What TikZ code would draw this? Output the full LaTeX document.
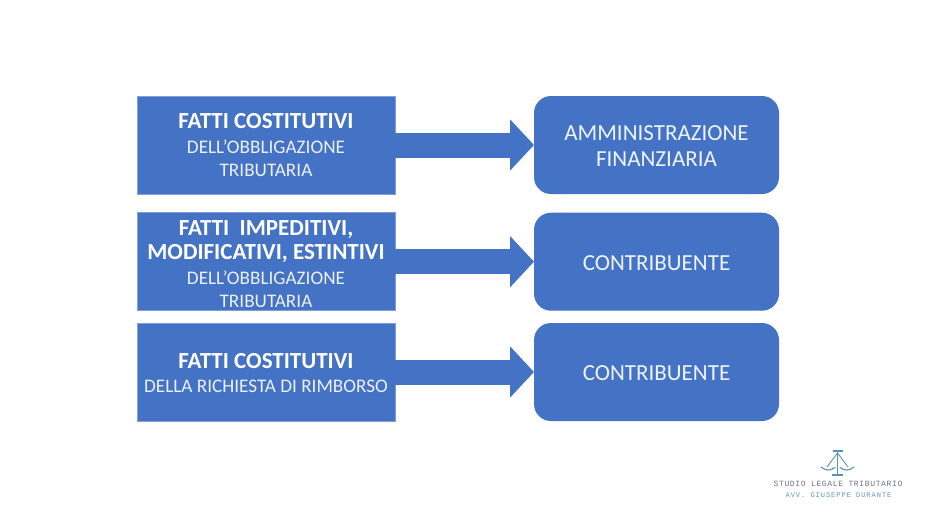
\documentclass[tikz,border=0pt]{standalone}
\usepackage{fontspec}
\setmainfont{Carlito}
\newfontfamily\logofont{Liberation Mono}
\usetikzlibrary{arrows.meta}
\definecolor{bluefill}{HTML}{4472C4}
\definecolor{blueedge}{HTML}{7F9FD6}
\definecolor{logoblue}{HTML}{5B93B5}
\definecolor{logogray}{HTML}{6F7478}
\newcommand{\headtxt}[1]{{\fontsize{23}{27}\selectfont\bfseries\rule{0pt}{17pt}#1}}
\newcommand{\subtxt}[1]{{\fontsize{19.2}{23}\selectfont\color{white!90!bluefill}\rule{0pt}{22pt}#1}}
\newcommand{\roundtxt}[1]{{\fontsize{23}{27}\selectfont\rule[-5pt]{0pt}{27pt}#1}}
\tikzset{
  fact/.style={rectangle,fill=bluefill,draw=blueedge,line width=0.6pt,outer sep=0pt,minimum width=258pt,minimum height=98pt,inner sep=0pt,text=white,align=center,anchor=north west},
  actor/.style={rectangle,rounded corners=17pt,fill=bluefill,outer sep=0pt,minimum width=245pt,minimum height=98pt,inner sep=0pt,text=white!92!bluefill,align=center,anchor=north west},
  flow/.style={draw=bluefill,line width=25pt,-{Triangle[length=24pt,width=50pt]}},
  logoline/.style={draw=logoblue,line width=1.1pt,line cap=round}
}
\begin{document}
\begin{tikzpicture}[x=1pt,y=-1pt]
\useasboundingbox (0,0) rectangle (935,528);
\node[fact] (f1) at (137,96) {\headtxt{FATTI COSTITUTIVI}\\[1.7pt]\subtxt{DELL’OBBLIGAZIONE}\\\subtxt{\rule[-2.5pt]{0pt}{0pt}TRIBUTARIA}};
\node[fact] (f2) at (137,212.7) {\headtxt{\rule{0pt}{19pt}FATTI\ \ IMPEDITIVI,}\\[3pt]\headtxt{MODIFICATIVI, ESTINTIVI}\\[-1.3pt]\subtxt{DELL’OBBLIGAZIONE}\\\subtxt{TRIBUTARIA}};
\node[fact] (f3) at (137,323) {\headtxt{FATTI COSTITUTIVI}\\[0.7pt]\subtxt{DELLA RICHIESTA DI RIMBORSO}};
\node[actor] (a1) at (534,96) {\roundtxt{AMMINISTRAZIONE}\\[-2pt]\roundtxt{FINANZIARIA}};
\node[actor] (a2) at (534,212.7) {\roundtxt{CONTRIBUENTE}};
\node[actor] (a3) at (534,323) {\roundtxt{CONTRIBUENTE}};
\draw[flow] (f1.east) -- (a1.west);
\draw[flow] (f2.east) -- (a2.west);
\draw[flow] (f3.east) -- (a3.west);
% logo
\draw[logoblue,line width=1.3pt] (833,451) -- (842.5,451) (837.5,451) -- (837.5,475) (832,475) -- (843,475);
\draw[logoline,line width=0.9pt] (837.5,453) -- (827,467) (837.5,453) -- (848,467);
\draw[logoline] (821,467) .. controls (826,471) and (830,471) .. (835,467.5);
\draw[logoline] (840,467.5) .. controls (845,471) and (849,471) .. (854,467);
\node[text=logogray,inner sep=0pt] (l1) at (838,484) {\logofont\fontsize{8}{9}\selectfont\addfontfeatures{LetterSpace=8}STUDIO LEGALE TRIBUTARIO};
\node[text=logoblue,inner sep=0pt] (l2) at (838.5,495) {\logofont\fontsize{7}{8}\selectfont\addfontfeatures{LetterSpace=14}AVV. GIUSEPPE DURANTE};
\end{tikzpicture}
\end{document}
